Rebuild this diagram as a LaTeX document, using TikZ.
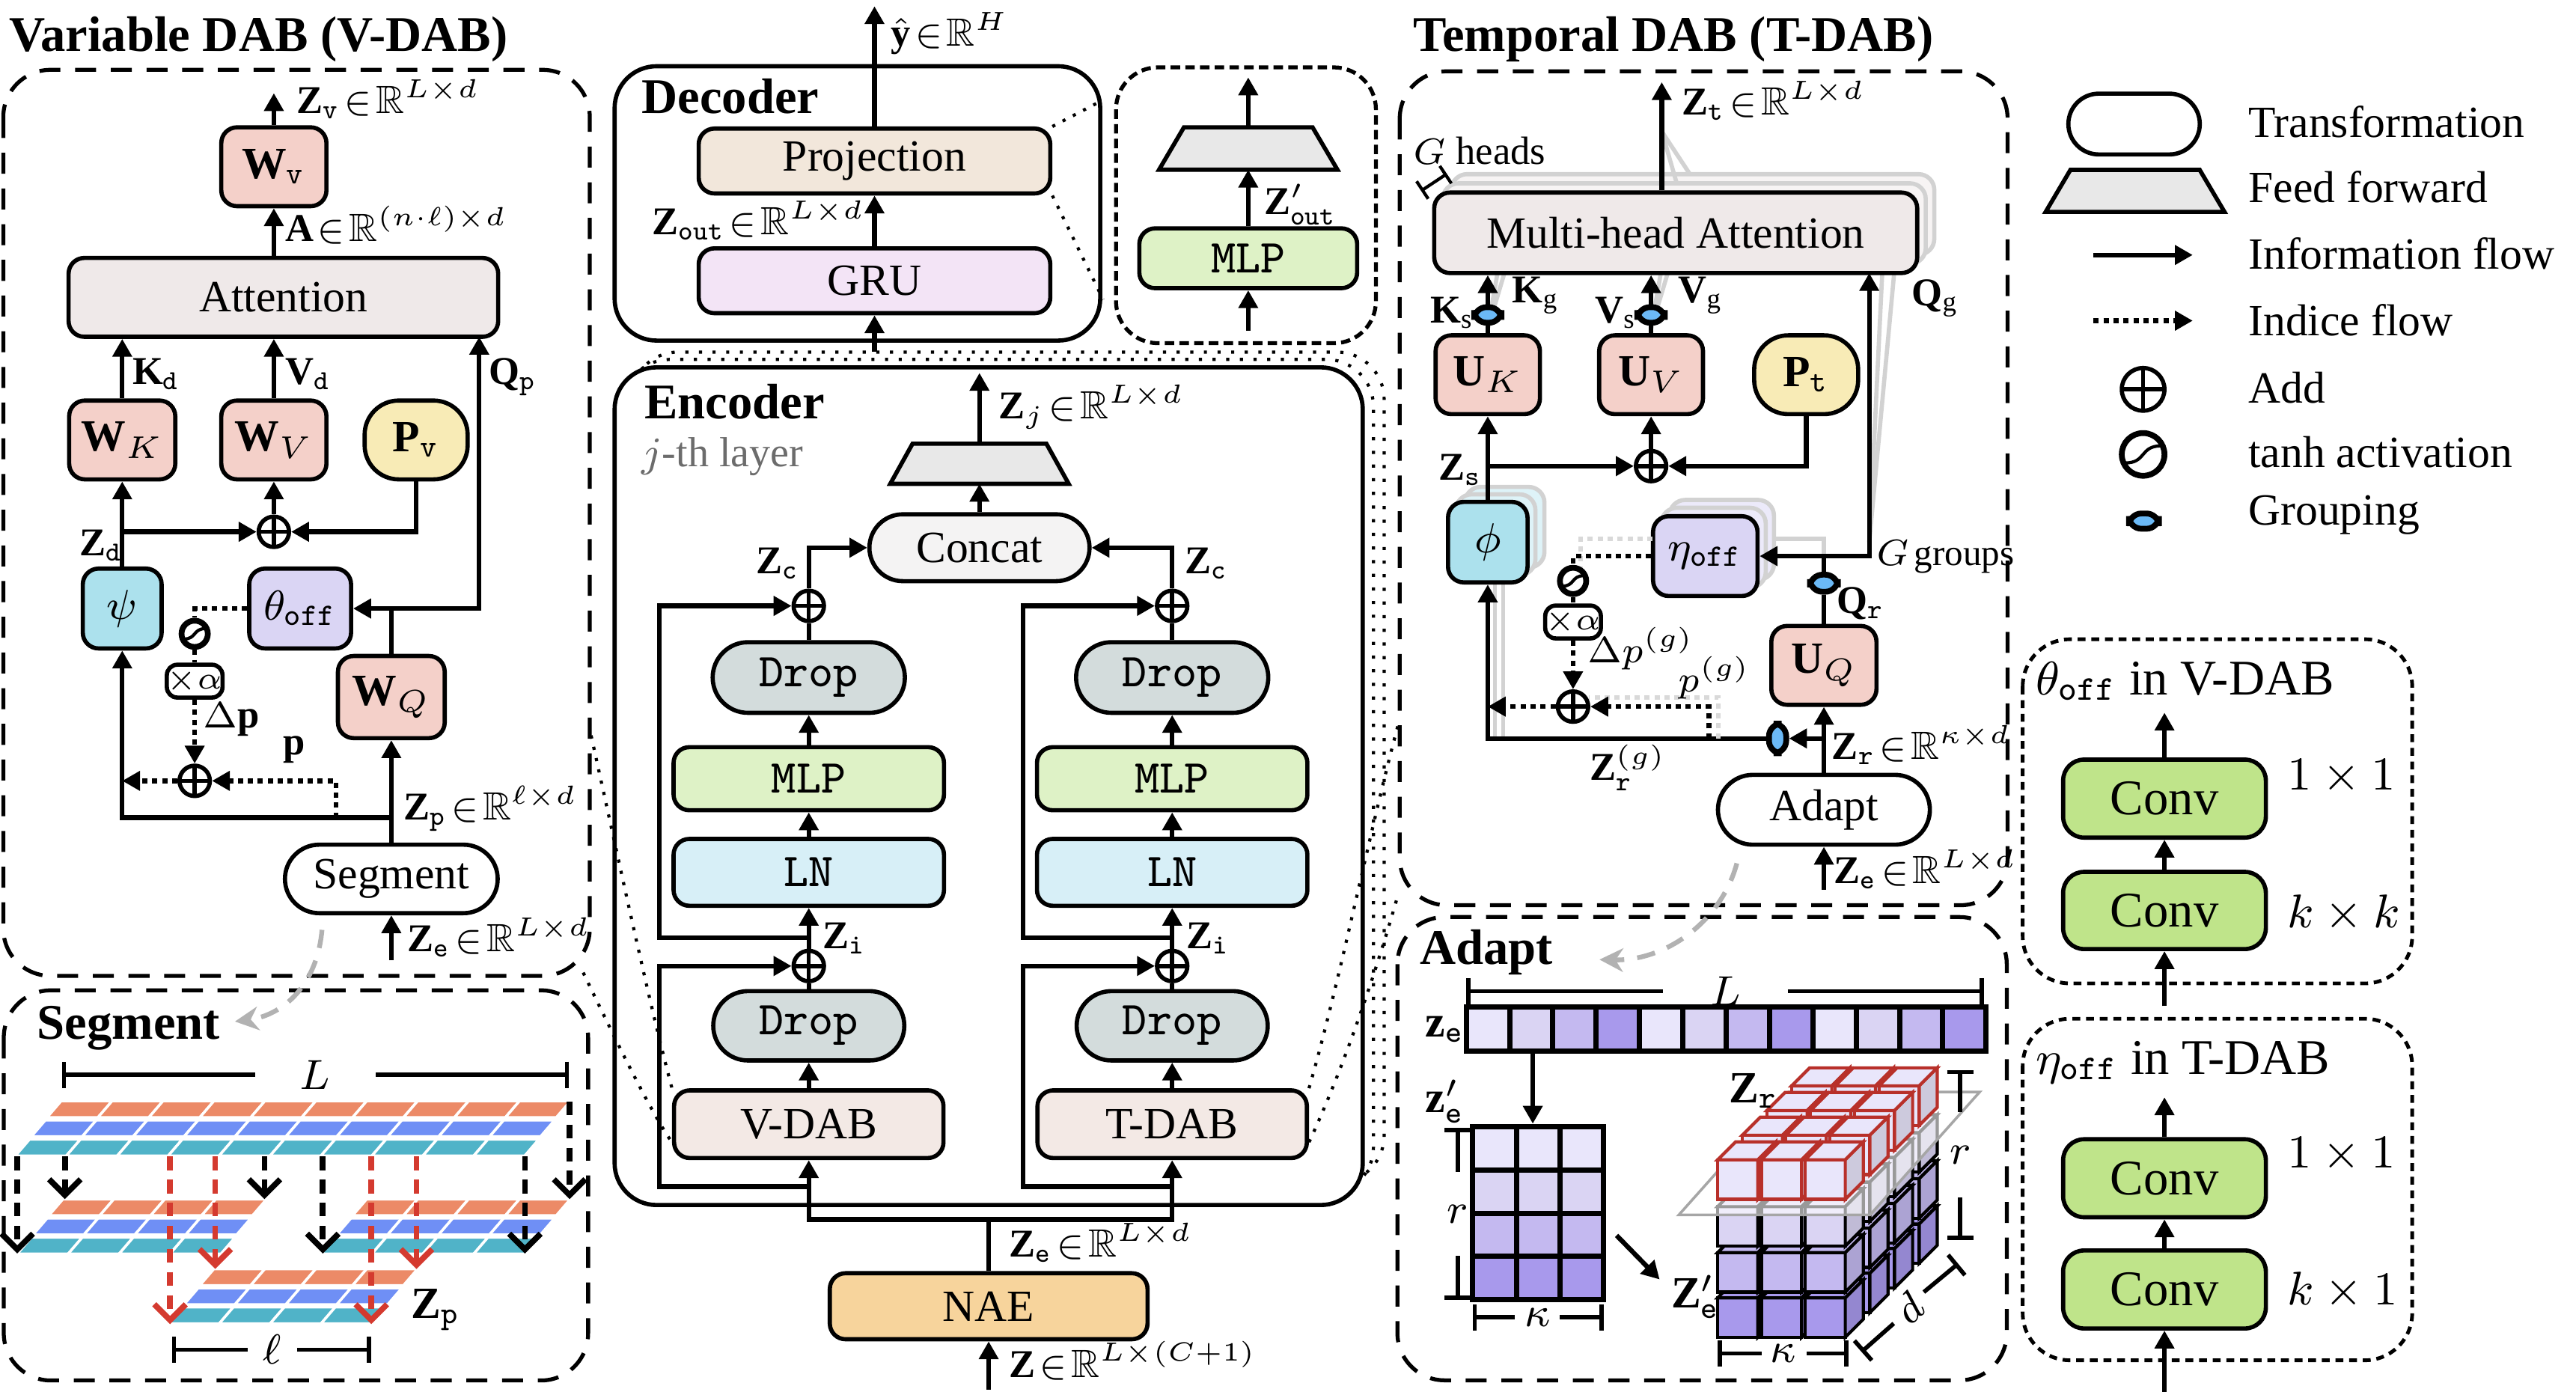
\documentclass[tikz,border=0pt]{standalone}
\usepackage{fontspec}
\setmainfont{Liberation Serif}
\usepackage{amsmath}
\usepackage{amssymb}
\usepackage{tikz}
\usetikzlibrary{arrows.meta, calc, shapes.misc}

% 配色
\definecolor{cW}{HTML}{F4D0C9}
\definecolor{cAtt}{HTML}{EFE9E9}
\definecolor{cPsi}{HTML}{ACE1ED}
\definecolor{cOff}{HTML}{DAD5F4}
\definecolor{cP}{HTML}{F8EBB6}
\definecolor{cProj}{HTML}{F2E7DB}
\definecolor{cGRU}{HTML}{F3E4F6}
\definecolor{cMLP}{HTML}{DEF2C6}
\definecolor{cLN}{HTML}{D7EFF7}
\definecolor{cDrop}{HTML}{D3DCDC}
\definecolor{cDAB}{HTML}{F3E9E5}
\definecolor{cNAE}{HTML}{F7D49C}
\definecolor{cCat}{HTML}{F4F3F3}
\definecolor{cFF}{HTML}{E8E8E8}
\definecolor{cConv}{HTML}{BFE48A}
\definecolor{cGrp}{HTML}{6BB9F6}
\definecolor{cOr}{HTML}{EC8A67}
\definecolor{cBl}{HTML}{6F8FF5}
\definecolor{cTe}{HTML}{50B3C8}
\definecolor{cRed}{HTML}{D43A2F}
\definecolor{cEdge}{HTML}{B8302A}
\definecolor{cA1}{HTML}{E9E6FB}
\definecolor{cA2}{HTML}{DAD4F3}
\definecolor{cA3}{HTML}{C4B9F0}
\definecolor{cA4}{HTML}{A899EC}

\def\ux{0.11mm}
\newcommand{\bZ}[1]{\mathbf{Z}_{\mathtt{#1}}}
\newcommand{\Rdim}[1]{\mathrel{\mkern-3.5mu\in\mkern-3.5mu}\mathbb{R}^{#1}}
\newcommand{\ttsize}{\fontsize{9}{10}\selectfont\ttfamily}
\newcommand{\ttlfont}{\fontsize{9.5}{11}\selectfont\bfseries}
\newcommand{\convfont}{\fontsize{9.5}{11}\selectfont}
\newcommand{\labfont}{\fontsize{7.5}{9}\selectfont}

% 前馈梯形: 中心x, 底边y, 底宽, 顶宽, 高, 名称
\newcommand{\ffblock}[6]{%
  \draw[line width=0.8pt, fill=cFF] (#1-#3/2,#2) -- (#1+#3/2,#2) -- (#1+#4/2,#2-#5) -- (#1-#4/2,#2-#5) -- cycle;
  \coordinate (#6-b) at (#1,#2);
  \coordinate (#6-t) at (#1,#2-#5);
}
% 分段条带: 左上角x, y, 格数
\newcommand{\plate}[3]{%
  \foreach \rw/\cl in {0/cOr,1/cBl,2/cTe}{
    \foreach \i in {1,...,#3}{
      \filldraw[fill=\cl, draw=white, line width=0.5pt] (#1-\rw*9.6+\i*31-31,#2+\rw*11.65) -- ++(31,0) -- ++(-8.6,10) -- ++(-31,0) -- cycle;
    }
  }
}
% 立方体: 前面左下角x, y, 填充, 边色
\newcommand{\cubeat}[4]{%
  \filldraw[fill=#3, draw=#4, line width=0.6pt] (#1,#2) rectangle ++(24.5,-24);
  \filldraw[fill=#3, draw=#4, line width=0.6pt] (#1,#2-24) -- ++(11,-11) -- ++(24.5,0) -- ++(-11,11) -- cycle;
  \filldraw[fill=#3!88!black, draw=#4, line width=0.6pt] (#1+24.5,#2) -- ++(11,-11) -- ++(0,-24) -- ++(-11,11) -- cycle;
}

\begin{document}
\begin{tikzpicture}[x=0.11mm, y=-0.11mm, font=\fontsize{8.5}{10}\selectfont,
    conn/.style={line width=0.9pt},
    flow/.style={line width=0.9pt, -{Triangle[length=3.4pt, width=3.6pt]}},
    idx/.style={line width=0.9pt, dash pattern=on 1pt off 0.9pt},
    idxflow/.style={idx, -{Triangle[length=3.4pt, width=3.6pt]}},
    blk/.style={draw, line width=0.8pt, rounded corners=3pt, inner sep=0pt, align=center},
    pnode/.style={draw, line width=0.8pt, rounded corners=6.5pt, fill=cP, inner sep=0pt},
    pill/.style={draw, line width=0.8pt, rounded rectangle, inner sep=0pt},
    sz/.style 2 args={minimum width=#1*\ux, minimum height=#2*\ux},
    grp/.style={draw, line width=1.1pt, rounded corners=2.4pt, fill=cGrp, inner sep=0pt},
    scal/.style={draw, line width=0.8pt, rounded corners=2pt, fill=white, inner sep=0pt,
      minimum width=28*\ux, minimum height=20*\ux, font=\fontsize{6.5}{7}\selectfont},
    addop/.style={circle, draw, line width=0.8pt, fill=white, inner sep=0pt, minimum size=#1*\ux,
      path picture={\draw[line width=0.8pt]
        (path picture bounding box.north) -- (path picture bounding box.south)
        (path picture bounding box.west) -- (path picture bounding box.east);}},
    addop/.default=18.5,
    tanhop/.style={circle, draw, line width=1.1pt, fill=white, inner sep=0pt, minimum size=#1*\ux,
      path picture={\draw[line width=0.6pt]
        ($(path picture bounding box.center)+(-0.42*#1*\ux,-0.2*#1*\ux)$)
        .. controls +(0.5*#1*\ux,0) and +(-0.5*#1*\ux,0) ..
        ($(path picture bounding box.center)+(0.42*#1*\ux,0.2*#1*\ux)$);}},
    tanhop/.default=16,
    shadowbox/.style={draw=gray!35, line width=0.8pt, rounded corners=3pt},
    fanln/.style={draw=gray!35, line width=0.8pt},
    fanidx/.style={draw=gray!30, line width=0.9pt, dash pattern=on 1pt off 0.9pt},
    hint/.style={draw=gray!60, line width=0.9pt, dash pattern=on 3.5pt off 2.5pt, -{Stealth[length=4.5pt, width=4.5pt]}},
    zoomln/.style={line width=0.6pt, dash pattern=on 0.6pt off 1.6pt},
    panel/.style={line width=0.75pt, dash pattern=on 4pt off 2.8pt, rounded corners=9pt},
    subpanel/.style={line width=0.7pt, dash pattern=on 1.5pt off 1.1pt, rounded corners=9pt},
    dim/.style={line width=0.8pt},
    segar/.style={line width=1.1pt, dash pattern=on 2.6pt off 1.8pt, -{Straight Barb[length=3pt, width=6pt]}},
    ttl/.style={anchor=base west, inner sep=0pt, font=\ttlfont},
    lbl/.style={anchor=base west, inner sep=0pt, font=\labfont},
    lble/.style={anchor=base east, inner sep=0pt, font=\labfont},
    lgd/.style={anchor=base west, inner sep=0pt}]
    \fill[white] (0,0) rectangle (1568,847);
    \useasboundingbox (0,0) rectangle (1568,847);

    % 虚线面板
    \draw[panel] (2,42.5) rectangle (359,594);
    \draw[panel] (2.3,602.8) rectangle (358,840.3);
    \draw[panel] (852,43.4) rectangle (1222,551);
    \draw[panel] (850.6,558.2) rectangle (1221.5,840.2);
    \draw[subpanel] (1231.2,389.1) rectangle (1468.3,598.6);
    \draw[subpanel] (1231.2,620.1) rectangle (1468.3,828);

    % ===== V-DAB =====
    \node[ttl] (tv) at (5,31.2) {Variable DAB (V-DAB)};
    \node[blk, fill=cW, sz={64}{48}] (Wv) at (166.7,101.5) {$\mathbf{W}_{\mathtt{v}}$};
    \node[blk, fill=cAtt, sz={261.5}{48}] (att) at (172.5,181) {Attention};
    \node[blk, fill=cW, sz={64.6}{48}] (WK) at (74.4,267.8) {$\mathbf{W}_K$};
    \node[blk, fill=cW, sz={64}{48}] (WV) at (166.7,267.8) {$\mathbf{W}_V$};
    \node[pnode, sz={62.7}{48}] (Pv) at (253.3,267.8) {$\mathbf{P}_{\mathtt{v}}$};
    \node[addop] (addv) at (166.7,323.7) {};
    \node[blk, fill=cPsi, sz={48}{48.6}] (psi) at (74.4,370.4) {$\psi$};
    \node[blk, fill=cOff, sz={62}{48.6}] (thoff) at (182.7,370.4) {$\theta_{\mathtt{off}}$};
    \node[blk, fill=cW, sz={65}{50}] (WQ) at (238.2,424.3) {$\mathbf{W}_Q$};
    \node[tanhop] (tanhv) at (118.5,385.8) {};
    \node[scal] (alv) at (118.5,414.6) {$\times\alpha$};
    \node[addop] (addp) at (118.5,475.3) {};
    \node[pill, fill=white, sz={129.5}{41.7}] (seg) at (238.2,535) {Segment};
    \coordinate (zvout) at (166.7,56.7);
    \coordinate (qtop) at (291.7,205);
    \coordinate (zpj) at (238.2,497.7);
    \coordinate (pj) at (204.5,497.7);
    \coordinate (zein) at (238.2,584.5);

    \draw[flow] (Wv.north) -- (zvout);
    \draw[flow] (Wv.south |- att.north) -- (Wv.south);
    \draw[flow] (WK.north) -- (WK.north |- att.south);
    \draw[flow] (WV.north) -- (WV.north |- att.south);
    \draw[conn] (WQ.north) -- (WQ.north |- thoff.east);
    \draw[flow] (WQ.north |- thoff.east) -- (thoff.east);
    \draw[flow] (WQ.north |- thoff.east) -| (qtop);
    \draw[flow] (psi.north) -- (WK.south);
    \draw[flow] (psi.north |- addv.west) -- (addv.west);
    \draw[flow] (Pv.south) |- (addv.east);
    \draw[flow] (addv.north) -- (WV.south);
    \draw[flow] (seg.north) -- (WQ.south);
    \draw[flow] (zpj) -| (psi.south);
    \draw[idx] (thoff.west) -| (tanhv.north);
    \draw[idx] (tanhv.south) -- (alv.north);
    \draw[idxflow] (alv.south) -- (addp.north);
    \draw[idxflow] (pj) |- (addp.east);
    \draw[idxflow] (addp.west) -- (addp.west -| psi.south);
    \draw[flow] (zein) -- (seg.south);

    \node[lbl] (lzv) at (180,69) {$\bZ{v}\Rdim{L\times d}$};
    \node[lbl] (la) at (173,147) {$\mathbf{A}\Rdim{(n\cdot\ell)\times d}$};
    \node[lbl] (lkd) at (80,234) {$\mathbf{K}_{\mathtt{d}}$};
    \node[lbl] (lvd) at (173,234) {$\mathbf{V}_{\mathtt{d}}$};
    \node[lbl] (lqp) at (297,234) {$\mathbf{Q}_{\mathtt{p}}$};
    \node[lbl] (lzd) at (48,338.4) {$\bZ{d}$};
    \node[lbl] (ldp) at (123,443) {$\Delta\mathbf{p}$};
    \node[lbl] (lp) at (172,459.4) {$\mathbf{p}$};
    \node[lbl] (lzp) at (245.2,499) {$\bZ{p}\Rdim{\ell\times d}$};
    \node[lbl] (lze) at (247.5,579.4) {$\bZ{e}\Rdim{L\times d}$};
    \draw[hint] (196,566) .. controls (193,600) and (172,618) .. (143,621.8);

    % ===== Segment =====
    \node[ttl] (tseg) at (22,632.4) {Segment};
    \draw[dim, {Bar[width=5pt]}-] (37.6,654.2) -- (155.2,654.2);
    \draw[dim, -{Bar[width=5pt]}] (228.9,654.2) -- (346.3,654.2);
    \node (lL) at (191.7,654.2) {$L$};
    \plate{37.2}{670.2}{10}
    \plate{38.3}{729.9}{4}
    \plate{223.2}{729.9}{4}
    \plate{130.2}{772.4}{4}
    \foreach \xa/\ya/\yb in {10.5/704/763, 39.5/704/729.9, 161/704/729.9, 196.5/704/763, 319.5/704/763, 346.7/670.5/729.9}
        \draw[segar] (\xa,\ya) -- (\xa,\yb);
    \foreach \xa/\yb in {103.5/806, 131/772.4, 226/806, 253.5/772.4}
        \draw[segar, cRed] (\xa,704) -- (\xa,\yb);
    \node[lbl, font=\fontsize{8.5}{10}\selectfont] (lzp2) at (249.8,802.5) {$\bZ{p}$};
    \draw[dim, {Bar[width=5pt]}-] (104.6,821.5) -- (151,821.5);
    \draw[dim, -{Bar[width=5pt]}] (180.8,821.5) -- (225.9,821.5);
    \node (lell) at (165.5,821.5) {$\ell$};

    % ===== Decoder =====
    \draw[line width=0.8pt, rounded corners=8pt] (374.1,40.3) rectangle (669.7,207.3);
    \node[ttl] (tdec) at (390,69.1) {Decoder};
    \node[blk, fill=cProj, sz={214}{39.5}] (proj) at (532.3,98) {Projection};
    \node[blk, fill=cGRU, sz={214}{39.5}] (gru) at (532.3,170.9) {GRU};
    \coordinate (yout) at (532.3,3.8);
    \coordinate (encout) at (532.3,214.2);
    \draw[flow] (proj.north) -- (yout);
    \draw[flow] (gru.north) -- (proj.south);
    \draw[flow] (encout) -- (gru.south);
    \node[lbl] (lyh) at (541.9,28.1) {$\hat{\mathbf{y}}\Rdim{H}$};
    \node[lble] (lzo) at (527,142.8) {$\bZ{out}\Rdim{L\times d}$};

    \draw[line width=0.75pt, dash pattern=on 1.8pt off 1pt, rounded corners=8pt] (679.3,41) rectangle (837.5,208.9);
    \ffblock{759.8}{103.3}{108.6}{78.3}{25.8}{ffd}
    \node[blk, fill=cMLP, sz={132.6}{36.4}, font=\ttsize] (mlpd) at (759.8,157.2) {MLP};
    \coordinate (mdout) at (759.8,47.1);
    \coordinate (mdin) at (759.8,201.3);
    \draw[flow] (ffd-t) -- (mdout);
    \draw[flow] (mlpd.north) -- (ffd-b);
    \draw[flow] (mdin) -- (mlpd.south);
    \node[lbl] (lzo2) at (768.8,130.6) {$\mathbf{Z}'_{\mathtt{out}}$};
    \draw[zoomln] (proj.north east) -- (671.5,60.8);
    \draw[zoomln] (proj.south east) -- (671.5,182.3);

    % ===== Encoder =====
    \draw[line width=0.6pt, dotted, rounded corners=9pt] (384,214.3) rectangle (842.5,720);
    \draw[line width=0.6pt, dotted, rounded corners=9pt] (379,218.8) rectangle (836,727);
    \draw[line width=0.8pt, fill=white, rounded corners=8pt] (374.1,223.6) rectangle (829.5,733.5);
    \node[ttl] (tenc) at (391.7,255) {Encoder};
    \node[lbl, text=gray!85!black, font=\fontsize{8}{9}\selectfont] (tlay) at (390,284) {$j$-th layer};
    \ffblock{596.2}{294.5}{108.6}{81.5}{24.4}{ffe}
    \node[pill, fill=cCat, sz={134}{40.7}] (cat) at (596.2,333.4) {Concat};
    \coordinate (zjout) at (596.2,227);
    \draw[flow] (ffe-t) -- (zjout);
    \draw[flow] (cat.north) -- (ffe-b);
    \node[lbl] (lzj) at (607.4,255) {$\mathbf{Z}_j\Rdim{L\times d}$};

    \foreach \cx/\sd/\dab/\rx in {492.3/L/V-DAB/401.3, 713.5/R/T-DAB/622.7}{
        \node[addop] (addu\sd) at (\cx,368.8) {};
        \node[pill, fill=cDrop, sz={117}{43}, font=\ttsize] (dropu\sd) at (\cx,412.4) {Drop};
        \node[blk, fill=cMLP, sz={164.6}{38.4}, font=\ttsize] (mlp\sd) at (\cx,474) {MLP};
        \node[blk, fill=cLN, sz={164.6}{40.7}, font=\ttsize] (ln\sd) at (\cx,531) {LN};
        \node[addop] (addl\sd) at (\cx,588) {};
        \node[pill, fill=cDrop, sz={116.3}{42.2}, font=\ttsize] (dropl\sd) at (\cx,624.4) {Drop};
        \node[blk, fill=cDAB, sz={164}{41.2}] (dab\sd) at (\cx,684.3) {\dab};
        \coordinate (ra\sd) at (\cx,570.7);
        \coordinate (rb\sd) at (\cx,722.2);
        \coordinate (rx\sd) at (\rx,0);
        \draw[conn] (dropu\sd.north) -- (addu\sd.south);
        \draw[flow] (mlp\sd.north) -- (dropu\sd.south);
        \draw[flow] (ln\sd.north) -- (mlp\sd.south);
        \draw[flow] (addl\sd.north) -- (ln\sd.south);
        \draw[conn] (dropl\sd.north) -- (addl\sd.south);
        \draw[flow] (dab\sd.north) -- (dropl\sd.south);
        \draw[flow] (ra\sd) -- (ra\sd -| rx\sd) |- (addu\sd.west);
        \draw[flow] (rb\sd) -- (rb\sd -| rx\sd) |- (addl\sd.west);
        \node[lbl] (lzi\sd) at (\cx+8,577.4) {$\bZ{i}$};
    }
    \draw[flow] (adduL.north) |- (cat.west);
    \draw[flow] (adduR.north) |- (cat.east);
    \node[lble] (lzcl) at (487.5,349) {$\bZ{c}$};
    \node[lbl] (lzcr) at (720.9,349) {$\bZ{c}$};

    \node[blk, fill=cNAE, sz={193.4}{40.2}] (nae) at (601.8,795.1) {NAE};
    \coordinate (split) at (601.8,742.3);
    \coordinate (zin) at (601.8,845.9);
    \draw[conn] (nae.north) -- (split);
    \draw[flow] (split) -| (dabL.south);
    \draw[flow] (split) -| (dabR.south);
    \draw[flow] (zin) -- (nae.south);
    \node[lbl] (lze2) at (613.8,765.3) {$\bZ{e}\Rdim{L\times d}$};
    \node[lbl] (lz) at (613.8,838.2) {$\mathbf{Z}\Rdim{L\times(C+1)}$};

    % 放大指示
    \draw[zoomln] (359.8,447.7) .. controls (378,530) and (395,610) .. (dabL.north west);
    \draw[zoomln] (355,592) .. controls (378,640) and (398,680) .. ($(dabL.south west)!0.25!(dabL.north west)$);
    \draw[zoomln] (dabR.north east) .. controls (815,600) and (835,500) .. (851,441.4);
    \draw[zoomln] ($(dabR.south east)!0.25!(dabR.north east)$) .. controls (818,650) and (838,590) .. (850,548);

    % ===== T-DAB =====
    \node[ttl] (tt) at (859.8,31.2) {Temporal DAB (T-DAB)};
    \foreach \s in {2,1}
        \draw[shadowbox, fill=cAtt!50] (873+\s*5.2,166.2-\s*5.6) rectangle (1167+\s*5.2,117.2-\s*5.6);
    \foreach \xx in {905.6,1005}{
        \draw[fanln] (\xx,200) -- (\xx+7,160);
        \draw[fanln] (\xx,200) -- (\xx+13.5,155);
    }
    \draw[fanln] (1137.8,330) -- (1146,160);
    \draw[fanln] (1137.8,330) -- (1154,155);
    \draw[fanln] (1011.5,80) -- (1020.6,111.5);
    \draw[fanln] (1011.5,80) -- (1028.5,105.8);
    \node[blk, fill=cAtt, sz={294}{49}] (mha) at (1020,141.7) {Multi-head Attention};
    \coordinate (ztout) at (1011.5,50);
    \coordinate (qg) at (1137.8,166.2);
    \draw[flow] (ztout |- mha.north) -- (ztout);
    \node[lbl] (lzt) at (1023.2,69.9) {$\bZ{t}\Rdim{L\times d}$};
    \node[lbl, font=\fontsize{7.5}{9}\selectfont] (lgh) at (859.8,100) {$G$ heads};
    \draw[line width=0.6pt, {Bar[width=4pt]}-{Bar[width=4pt]}] (865,116.2) -- (880.7,105.8);

    \node[blk, fill=cW, sz={63.5}{48}] (UK) at (905.6,228.1) {$\mathbf{U}_K$};
    \node[blk, fill=cW, sz={63.2}{48}] (UV) at (1005,228.1) {$\mathbf{U}_V$};
    \node[pnode, sz={63.3}{48}] (Pt) at (1099.4,228.1) {$\mathbf{P}_{\mathtt{t}}$};
    \node[grp, sz={16.7}{9.5}] (gk) at (905.6,191.7) {};
    \node[grp, sz={16.7}{9.5}] (gv) at (1005,191.7) {};
    \draw[conn] (UK.north) -- (gk.south);
    \draw[flow] (gk.north) -- (gk.north |- mha.south);
    \draw[conn] (UV.north) -- (gv.south);
    \draw[flow] (gv.north) -- (gv.north |- mha.south);
    \node[lble] (lks) at (898,196.5) {$\mathbf{K}_{\mathrm{s}}$};
    \node[lbl] (lkg) at (920,184.2) {$\mathbf{K}_{\mathrm{g}}$};
    \node[lble] (lvs) at (997,196.5) {$\mathbf{V}_{\mathrm{s}}$};
    \node[lbl] (lvg) at (1021,184.2) {$\mathbf{V}_{\mathrm{g}}$};
    \node[lbl] (lqg) at (1163.1,186) {$\mathbf{Q}_{\mathrm{g}}$};

    \draw[fanln] (910,356) -- (910,449.5);
    \draw[fanln] (915,352) -- (915,449.5);
    \foreach \s in {2,1}{
        \draw[shadowbox, fill=cPsi!40] (880.7+\s*5.5,354.5-\s*4.5) rectangle (929.1+\s*5.5,305.4-\s*4.5);
        \draw[shadowbox, fill=cOff!50] (1006.2+\s*5,362.5-\s*4.8) rectangle (1069.8+\s*5,313.9-\s*4.8);
    }
    \node[blk, fill=cPsi, sz={48.4}{49}] (phi) at (905.6,330) {$\phi$};
    \node[blk, fill=cOff, sz={63.6}{48.6}] (eta) at (1038,338.5) {$\eta_{\mathtt{off}}$};
    \node[addop] (addt) at (1005,283.7) {};
    \draw[flow] (phi.north) -- (UK.south);
    \draw[flow] (phi.north |- addt.west) -- (addt.west);
    \draw[flow] (Pt.south) |- (addt.east);
    \draw[flow] (addt.north) -- (UV.south);
    \node[lble] (lzs) at (903,292.2) {$\bZ{s}$};

    \node[blk, fill=cW, sz={64}{48}] (UQ) at (1110.2,405) {$\mathbf{U}_Q$};
    \node[grp, sz={17}{10.4}] (gq) at (1110.2,355) {};
    \node[grp, sz={10.5}{18}] (gz) at (1082,449.5) {};
    \node[pill, fill=white, sz={129}{42.5}] (adapt) at (1110.2,492.9) {Adapt};
    \coordinate (qj) at (1110.2,338.5);
    \coordinate (zrj) at (1110.2,449.5);
    \coordinate (pgj) at (1040.2,449.5);
    \coordinate (zein2) at (1110.2,541.5);
    \draw[fanln] (1110.2,338.5) |- (1080,328);
    \draw[conn] (UQ.north) -- (gq.south);
    \draw[conn] (gq.north) -- (qj);
    \draw[flow] (qj) -- (eta.east);
    \draw[flow] (qj) -| (qg);
    \draw[flow] (adapt.north) -- (UQ.south);
    \draw[flow] (zrj) -- (gz.east);
    \draw[flow] (gz.west) -| (phi.south);
    \draw[flow] (zein2) -- (adapt.south);
    \node[lbl, font=\fontsize{7}{8.5}\selectfont] (lgg) at (1141.5,344.1) {$G$\kern1pt groups};
    \node[lbl] (lqr) at (1117.4,373.4) {$\mathbf{Q}_{\mathtt{r}}$};
    \node[lbl] (lzr) at (1114.5,462.2) {$\bZ{r}\Rdim{\kappa\times d}$};
    \node[lbl] (lzrg) at (967,475) {$\mathbf{Z}_{\mathtt{r}}^{(g)}$};
    \node[lbl] (lze3) at (1115.5,537.8) {$\bZ{e}\Rdim{L\times d}$};

    \draw[fanidx] (1006,328) -| (962,346);
    \draw[fanidx] (1046,449.5) |- (967,424.5);
    \node[tanhop] (tanht) at (957.5,353.6) {};
    \node[scal] (alt) at (957.5,378.6) {$\times\alpha$};
    \node[addop] (addt2) at (957.5,430.1) {};
    \draw[idx] (eta.west) -| (tanht.north);
    \draw[idx] (tanht.south) -- (alt.north);
    \draw[idxflow] (alt.south) -- (addt2.north);
    \draw[idxflow] (pgj) |- (addt2.east);
    \draw[idxflow] (addt2.west) -- (addt2.west -| phi.south);
    \node[lbl] (ldpg) at (965.7,403.6) {$\Delta p^{(g)}$};
    \node[lbl] (lpg) at (1021,421) {$p^{(g)}$};
    \draw[hint] (1057.2,525.5) .. controls (1048,560) and (1015,585) .. (973.6,584.1);

    % ===== Adapt =====
    \node[ttl] (tad) at (863.7,587) {Adapt};
    \draw[dim, {Bar[width=5pt]}-] (892.5,603.3) -- (1012.3,603.3);
    \draw[dim, -{Bar[width=5pt]}] (1088.1,603.3) -- (1207.6,603.3);
    \node (lL2) at (1050.2,603.3) {$L$};
    \foreach \i/\cl in {0/cA1,1/cA2,2/cA3,3/cA4,4/cA1,5/cA2,6/cA3,7/cA4,8/cA1,9/cA2,10/cA3,11/cA4}
        \filldraw[fill=\cl, draw=black, line width=1pt] (892.5+\i*26.37,612.9) rectangle ++(26.37,26.8);
    \node[lbl, font=\fontsize{8.5}{10}\selectfont] (lze4) at (867,631.1) {$\mathbf{z}_{\mathtt{e}}$};
    \draw[flow] (933,639.7) -- (933,684);
    \node[lbl, font=\fontsize{8.5}{10}\selectfont] (lze5) at (867,677.1) {$\mathbf{z}'_{\mathtt{e}}$};
    \foreach \rw/\cl in {0/cA1,1/cA2,2/cA3,3/cA4}
        \foreach \col in {0,1,2}
            \filldraw[fill=\cl, draw=black, line width=1pt] (896.4+\col*26.6,685.8+\rw*26.35) rectangle ++(26.6,26.35);
    \draw[dim, {Bar[width=5pt]}-] (887.3,686.7) -- (887.3,713.6);
    \draw[dim, -{Bar[width=5pt]}] (887.3,764.4) -- (887.3,791.2);
    \node (lr1) at (887.3,739) {$r$};
    \draw[dim, {Bar[width=5pt]}-] (896.4,801.8) -- (922.2,801.8);
    \draw[dim, -{Bar[width=5pt]}] (949.4,801.8) -- (976.2,801.8);
    \node (lk1) at (935.8,801.8) {$\kappa$};
    \draw[flow] (984,752) -- (1010.2,778.8);
    \node[lbl, font=\fontsize{8.5}{10}\selectfont] (lze6) at (1016.7,796) {$\mathbf{Z}'_{\mathtt{e}}$};

    \foreach \ly/\yb/\cl in {0/814/cA4, 1/786.5/cA3, 2/758.5/cA2}{
        \foreach \dp in {3,2,1,0}{
            \foreach \col in {0,1,2}{
                \cubeat{1045.5+\col*26.6+\dp*15}{\yb-\dp*15}{\cl}{black}
            }
        }
    }
    \filldraw[fill=white, fill opacity=0.6, draw=gray!70, line width=0.5pt] (1021.9,739.5) -- (1138.3,739.5) -- (1205,664.7) -- (1088.6,664.7) -- cycle;
    \foreach \dp in {3,2,1,0}{
        \foreach \col in {0,1,2}{
            \cubeat{1045.5+\col*26.6+\dp*15}{730-\dp*15}{cA1}{cEdge}
        }
    }
    \node[lbl, font=\fontsize{8.5}{10}\selectfont] (lzr2) at (1052,671.4) {$\bZ{r}$};
    \draw[dim, {Bar[width=5pt]}-] (1193.2,651.2) -- (1193.2,677.1);
    \draw[dim, -{Bar[width=5pt]}] (1193.2,728.9) -- (1193.2,754.8);
    \node (lr2) at (1193.2,703) {$r$};
    \draw[dim, {Bar[width=5pt]}-] (1045.5,823.9) -- (1072.4,823.9);
    \draw[dim, -{Bar[width=5pt]}] (1099.6,823.9) -- (1125.2,823.9);
    \node (lk2) at (1085.5,823.9) {$\kappa$};
    \draw[dim, {Bar[width=5pt]}-] (1133.1,822.9) -- (1152.7,805.6);
    \draw[dim, -{Bar[width=5pt]}] (1171,786.5) -- (1191.9,769.2);
    \node[rotate=42] (ld) at (1162,796) {$d$};

    % ===== 图例 =====
    \node[pill, fill=white, sz={80}{37}] (lgT) at (1299,75.5) {};
    \node[lgd] (lgt1) at (1368,83.7) {Transformation};
    \ffblock{1299.6}{129}{108.9}{78.7}{25.6}{lgF}
    \node[lgd] (lgt2) at (1368,123.2) {Feed forward};
    \coordinate (lga) at (1274.3,155.2);
    \coordinate (lgb) at (1334.7,155.2);
    \draw[flow] (lga) -- (lgb);
    \node[lgd] (lgt3) at (1368,163.8) {Information flow};
    \coordinate (lgc) at (1274.3,195.2);
    \coordinate (lgd) at (1334.7,195.2);
    \draw[idxflow] (lgc) -- (lgd);
    \node[lgd] (lgt4) at (1368,204.5) {Indice flow};
    \node[addop=26] (lgAdd) at (1304.5,237) {};
    \node[lgd] (lgt5) at (1368,245.2) {Add};
    \node[tanhop=26] (lgTanh) at (1304.5,276.6) {};
    \node[lgd] (lgt6) at (1368,284.7) {tanh activation};
    \node[grp, sz={18.3}{9.3}] (lgGrp) at (1305,317.2) {};
    \node[lgd] (lgt7) at (1368,319.6) {Grouping};

    % ===== theta_off / eta_off =====
    \node[lgd, font=\convfont] (tth) at (1238.7,423) {$\theta_{\mathtt{off}}$ in V-DAB};
    \node[blk, fill=cConv, rounded corners=4pt, sz={123.4}{47.5}, font=\convfont] (cv1) at (1317.5,486.1) {Conv};
    \node[blk, fill=cConv, rounded corners=4pt, sz={123.4}{47}, font=\convfont] (cv2) at (1317.5,554.2) {Conv};
    \coordinate (cv1o) at (1317.5,433.8);
    \coordinate (cv2i) at (1317.5,612.4);
    \draw[flow] (cv1.north) -- (cv1o);
    \draw[flow] (cv2.north) -- (cv1.south);
    \draw[flow] (cv2i) -- (cv2.south);
    \node[lgd, font=\convfont] (lk11) at (1391.8,480.9) {$1\times1$};
    \node[lgd, font=\convfont] (lkk) at (1391.8,564.7) {$k\times k$};

    \node[lgd, font=\convfont] (tet) at (1238.7,654) {$\eta_{\mathtt{off}}$ in T-DAB};
    \node[blk, fill=cConv, rounded corners=4pt, sz={123.4}{47.5}, font=\convfont] (cv3) at (1317.5,717.2) {Conv};
    \node[blk, fill=cConv, rounded corners=4pt, sz={123.4}{47.5}, font=\convfont] (cv4) at (1317.5,784.9) {Conv};
    \coordinate (cv3o) at (1317.5,667.9);
    \coordinate (cv4i) at (1317.5,847.4);
    \draw[flow] (cv3.north) -- (cv3o);
    \draw[flow] (cv4.north) -- (cv3.south);
    \draw[flow] (cv4i) -- (cv4.south);
    \node[lgd, font=\convfont] (lk12) at (1391.8,711) {$1\times1$};
    \node[lgd, font=\convfont] (lk13) at (1391.8,794.2) {$k\times1$};
\end{tikzpicture}
\end{document}
